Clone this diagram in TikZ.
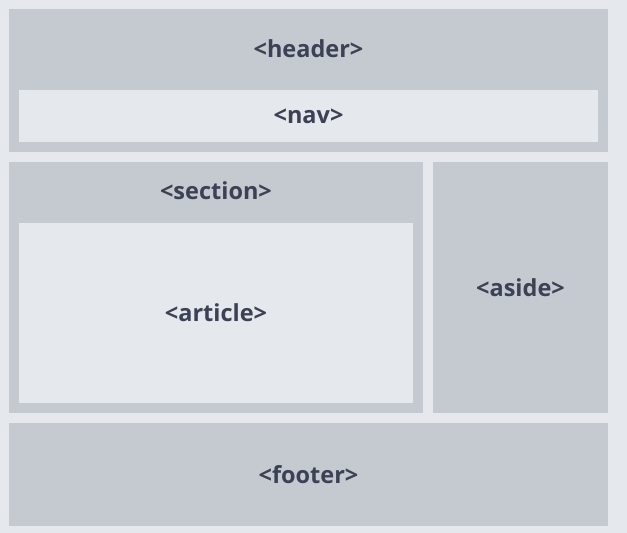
\documentclass[tikz,border=0pt]{standalone}
\usepackage{fontspec}
\setmainfont{Open Sans}
\usepackage{tikz}
\usetikzlibrary{positioning, calc, backgrounds}
\definecolor{pagebg}{HTML}{E5E8EC}
\definecolor{blockgrey}{HTML}{C4CAD0}
\definecolor{innerlight}{HTML}{E5E8EC}
\definecolor{tagtext}{HTML}{3C4154}
\tikzset{
  % Outer layout blocks
  block/.style={
    rectangle, fill=blockgrey, draw=none, inner sep=0pt, outer sep=0pt,
    anchor=north west,
  },
  % Nested (lighter) blocks
  inner/.style={
    rectangle, fill=innerlight, draw=none, inner sep=0pt, outer sep=0pt,
    anchor=north west,
  },
  % Tag labels
  tag/.style={font=\fontsize{23.5}{28}\selectfont\bfseries, text=tagtext, inner sep=0pt},
}
\begin{document}
\begin{tikzpicture}[x=1pt, y=-1pt]

  % Page
  \fill[pagebg] (0,0) rectangle (627,533);
  \useasboundingbox (0,0) rectangle (627,533);

  % Header with nav
  \node[block, minimum width=599pt, minimum height=143pt] (header) at (9,9) {};
  \node[inner, minimum width=579pt, minimum height=52pt] (nav) at (19,90) {};
  \node[tag] (headertag) at ($(header.north)+(0,40)$) {<header>};
  \node[tag] (navtag) at (nav.center) {<nav>};

  % Section with article
  \node[block, minimum width=414pt, minimum height=251pt] (section) at (9,162) {};
  \node[inner, minimum width=394pt, minimum height=180pt] (article) at (19,223) {};
  \node[tag] (sectiontag) at ($(section.north)+(0,29)$) {<section>};
  \node[tag] (articletag) at (article.center) {<article>};

  % Aside
  \node[block, minimum width=175pt, minimum height=251pt] (aside) at (433,162) {};
  \node[tag] (asidetag) at (aside.center) {<aside>};

  % Footer
  \node[block, minimum width=599pt, minimum height=103pt] (footer) at (9,423) {};
  \node[tag] (footertag) at (footer.center) {<footer>};

\end{tikzpicture}
\end{document}
